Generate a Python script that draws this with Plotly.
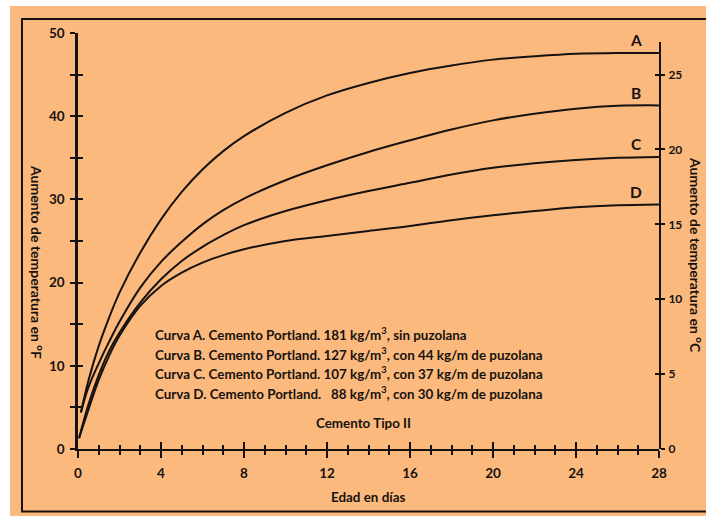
import plotly.graph_objects as go

# ---- data ----
days_A = [0.14, 0.5, 1, 1.5, 2, 3, 4, 5, 6, 7, 8, 10, 12, 14, 16, 18, 20, 22, 24, 26, 28]
temp_A = [4.4, 8.2, 12.4, 15.8, 18.8, 23.6, 27.6, 30.9, 33.6, 35.8, 37.6, 40.4, 42.5, 44.0, 45.2, 46.1, 46.8, 47.2, 47.5, 47.6, 47.6]

days_B = [0.14, 0.5, 1, 1.5, 2, 3, 4, 5, 6, 7, 8, 10, 12, 14, 16, 18, 20, 22, 24, 26, 28]
temp_B = [4.4, 7.4, 10.3, 12.9, 15.3, 19.4, 22.5, 24.9, 27.0, 28.7, 30.1, 32.3, 34.1, 35.7, 37.1, 38.4, 39.5, 40.3, 40.9, 41.25, 41.3]

days_C = [0.05, 0.5, 1, 1.5, 2, 3, 4, 5, 6, 7, 8, 10, 12, 14, 16, 18, 20, 22, 24, 26, 28]
temp_C = [1.3, 5.3, 8.9, 11.8, 14.0, 17.6, 20.4, 22.6, 24.3, 25.7, 26.9, 28.6, 29.9, 31.0, 32.0, 33.0, 33.8, 34.35, 34.75, 35.0, 35.1]

days_D = [0.05, 0.5, 1, 1.5, 2, 3, 4, 5, 6, 7, 8, 10, 12, 14, 16, 18, 20, 22, 24, 26, 28]
temp_D = [1.3, 4.7, 8.3, 11.2, 13.6, 17.2, 19.6, 21.2, 22.4, 23.3, 24.0, 25.0, 25.6, 26.2, 26.8, 27.5, 28.1, 28.6, 29.05, 29.3, 29.4]

curve_names = ["A", "B", "C", "D"]
x_ticks = [0, 4, 8, 12, 16, 20, 24, 28]
yF_ticks = [0, 10, 20, 30, 40, 50]
yC_ticks = [0, 5, 10, 15, 20, 25]

legend_lines = [
    "Curva A. Cemento Portland. 181 kg/m<sup>3</sup>, sin puzolana",
    "Curva B. Cemento Portland. 127 kg/m<sup>3</sup>, con 44 kg/m de puzolana",
    "Curva C. Cemento Portland. 107 kg/m<sup>3</sup>, con 37 kg/m de puzolana",
    "Curva D. Cemento Portland. \u00a0\u00a088 kg/m<sup>3</sup>, con 30 kg/m de puzolana",
]
subtitle = "Cemento Tipo II"
x_title = "Edad en días"
yF_title = "Aumento de temperatura en <sup>o</sup>F"
yC_title = "Aumento de temperatura en <sup>o</sup>C"

# ---- layout geometry ----
W, H = 706, 516
L, R, T, B = 78, 47, 33, 67
PW, PH = W - L - R, H - T - B
ORANGE = "#FCB97D"
INK = "#161210"
FONT = "Lato"


def px(xp):
    return (xp - L) / PW


def py(yp):
    return (H - B - yp) / PH


fig = go.Figure()
series = [(days_A, temp_A), (days_B, temp_B), (days_C, temp_C), (days_D, temp_D)]
for name, (d, t) in zip(curve_names, series):
    fig.add_trace(go.Scatter(x=d, y=t, mode="lines", name=name,
                             line=dict(color=INK, width=2, shape="spline", smoothing=1.0),
                             hoverinfo="skip", showlegend=False))

# invisible helper traces so the extra axes get drawn
for xa, ya in [("x2", "y"), ("x", "y2"), ("x", "y3"), ("x", "y4")]:
    fig.add_trace(go.Scatter(x=[None], y=[None], xaxis=xa, yaxis=ya, mode="markers",
                             showlegend=False, hoverinfo="skip"))

tickfont = dict(family=FONT, size=13.5, color=INK, weight="bold")

fig.update_layout(
    width=W, height=H, autosize=False,
    margin=dict(l=L, r=R, t=T, b=B, pad=0),
    paper_bgcolor="white", plot_bgcolor="rgba(0,0,0,0)",
    showlegend=False,
    xaxis=dict(domain=[0, 1], range=[0, 28], anchor="y", showgrid=False, zeroline=False,
               showline=True, linecolor=INK, linewidth=2,
               tickvals=x_ticks, ticks="outside", ticklen=7, tickwidth=2, tickcolor=INK,
               minor=dict(dtick=1, tick0=0, ticks="outside", ticklen=4, tickwidth=1.6, tickcolor=INK),
               tickfont=tickfont, ticklabelstandoff=4),
    xaxis2=dict(range=[0, 28], overlaying="x", anchor="y", side="bottom", showgrid=False,
                zeroline=False, showline=False, showticklabels=False,
                tickvals=x_ticks, ticks="inside", ticklen=7, tickwidth=2, tickcolor=INK,
                minor=dict(dtick=1, tick0=0, ticks="inside", ticklen=4, tickwidth=1.6, tickcolor=INK)),
    yaxis=dict(domain=[0, 1], range=[0, 50], anchor="x", showgrid=False, zeroline=False,
               showline=True, linecolor=INK, linewidth=2.5,
               tickvals=yF_ticks, ticks="outside", ticklen=5, tickwidth=2, tickcolor=INK,
               minor=dict(dtick=5, tick0=0, ticks="outside", ticklen=5, tickwidth=2, tickcolor=INK),
               tickfont=tickfont, ticklabelstandoff=3),
    yaxis3=dict(range=[0, 50], overlaying="y", anchor="x", side="left", showgrid=False,
                zeroline=False, showline=False, showticklabels=False,
                tickvals=yF_ticks, ticks="inside", ticklen=5, tickwidth=2, tickcolor=INK,
                minor=dict(dtick=5, tick0=0, ticks="inside", ticklen=5, tickwidth=2, tickcolor=INK)),
    yaxis2=dict(domain=[0, 0.979], range=[0, 27.19], anchor="x", side="right", showgrid=False,
                zeroline=False, showline=True, linecolor=INK, linewidth=2,
                tickvals=yC_ticks, ticks="outside", ticklen=4, tickwidth=1.6, tickcolor=INK,
                tickfont=dict(family=FONT, size=12, color=INK, weight="bold"),
                ticklabelstandoff=1),
    yaxis4=dict(range=[0, 27.19], overlaying="y2", anchor="x", side="right", showgrid=False,
                zeroline=False, showline=False, showticklabels=False,
                tickvals=yC_ticks, ticks="inside", ticklen=4, tickwidth=1.6, tickcolor=INK),
)

# background and frame
fig.add_shape(type="rect", xref="paper", yref="paper", layer="below",
              x0=px(10), x1=px(W + 5), y0=py(H + 5), y1=py(6),
              fillcolor=ORANGE, line=dict(width=0))
fig.add_shape(type="rect", xref="paper", yref="paper", layer="below",
              x0=px(22), x1=px(W + 10), y0=py(511.5), y1=py(19),
              fillcolor="rgba(0,0,0,0)", line=dict(color=INK, width=2))

# curve letters at the curve ends
for name, (d, t) in zip(curve_names, series):
    fig.add_annotation(x=26.9, y=t[-1], xref="x", yref="y", text=name, showarrow=False,
                       yshift=12.5, font=dict(family=FONT, size=15.5, color=INK, weight="bold"))

txtfont = dict(family=FONT, size=13.4, color=INK, weight="bold")
for i, line in enumerate(legend_lines):
    fig.add_annotation(x=px(153), y=py(334 + i * 19.7), xref="paper", yref="paper",
                       text=line, showarrow=False, xanchor="left", yanchor="middle", font=txtfont)
fig.add_annotation(x=px(363), y=py(423), xref="paper", yref="paper", text=subtitle,
                   showarrow=False, xanchor="center", yanchor="middle", font=txtfont)
fig.add_annotation(x=px(368), y=py(497), xref="paper", yref="paper", text=x_title,
                   showarrow=False, xanchor="center", yanchor="middle", font=txtfont)
titlefont = dict(family=FONT, size=14, color=INK, weight="bold")
fig.add_annotation(x=px(38), y=py(262), xref="paper", yref="paper", text=yF_title,
                   showarrow=False, textangle=90, xanchor="center", yanchor="middle", font=titlefont)
fig.add_annotation(x=px(697), y=py(255), xref="paper", yref="paper", text=yC_title,
                   showarrow=False, textangle=90, xanchor="center", yanchor="middle", font=titlefont)

fig.write_html("out.html", config={"displayModeBar": False},
               post_script="document.body.style.margin='0';document.body.style.overflow='hidden';")
